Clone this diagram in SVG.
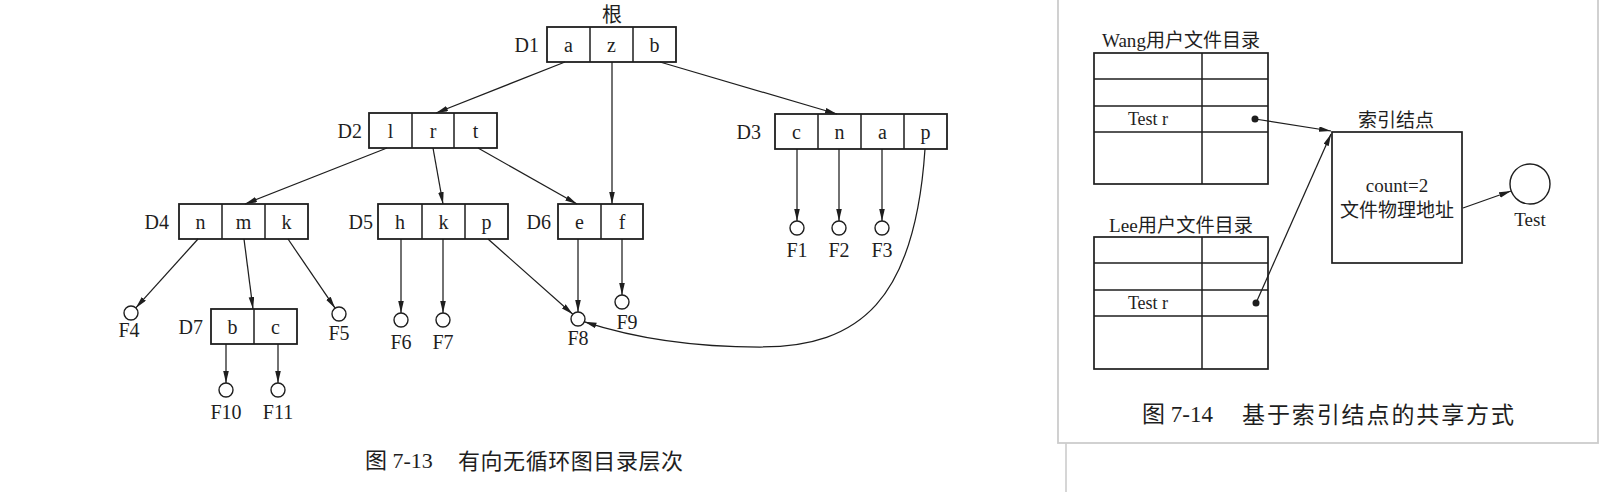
<svg xmlns="http://www.w3.org/2000/svg" width="1602" height="492" viewBox="0 0 1602 492">
<style>
text{font-family:"Liberation Serif","Noto Sans CJK SC",serif;fill:#1e1e1e}
.lbl{font-size:20px}
.c{text-anchor:middle}
.e{text-anchor:end}
.box{fill:#fff;stroke:#1e1e1e;stroke-width:1.8}
.cell{stroke:#1e1e1e;stroke-width:1.5}
.ln{fill:none;stroke:#1e1e1e;stroke-width:1.25}
.fc{fill:#fff;stroke:#1e1e1e;stroke-width:1.4}
.tb{fill:#fff;stroke:#1e1e1e;stroke-width:1.7}
.cap{font-size:22px}
.r19{font-size:19px}
</style>
<defs>
<marker id="arr" markerUnits="userSpaceOnUse" markerWidth="13" markerHeight="7" refX="12" refY="2.8" orient="auto">
<path d="M0,0 L12,2.8 L0,5.6 Z" fill="#1e1e1e"/>
</marker>
</defs>
<rect x="0" y="0" width="1602" height="492" fill="#fff"/>

<!-- Left figure 7-13 -->
<text class="lbl c" x="612" y="22">根</text>

<g id="D1">
<rect class="box" x="547" y="27" width="129" height="35"/>
<line class="cell" x1="590" y1="27" x2="590" y2="62"/>
<line class="cell" x1="633" y1="27" x2="633" y2="62"/>
<text class="lbl e" x="539" y="52">D1</text>
<text class="lbl c" x="568.5" y="52">a</text>
<text class="lbl c" x="611.5" y="52">z</text>
<text class="lbl c" x="654.5" y="52">b</text>
</g>

<g id="D2">
<rect class="box" x="369" y="113" width="128" height="35"/>
<line class="cell" x1="412" y1="113" x2="412" y2="148"/>
<line class="cell" x1="454" y1="113" x2="454" y2="148"/>
<text class="lbl e" x="362" y="138">D2</text>
<text class="lbl c" x="390.5" y="138">l</text>
<text class="lbl c" x="433" y="138">r</text>
<text class="lbl c" x="475.5" y="138">t</text>
</g>

<g id="D3">
<rect class="box" x="775" y="114" width="172" height="35"/>
<line class="cell" x1="818" y1="114" x2="818" y2="149"/>
<line class="cell" x1="861" y1="114" x2="861" y2="149"/>
<line class="cell" x1="904" y1="114" x2="904" y2="149"/>
<text class="lbl e" x="761" y="139">D3</text>
<text class="lbl c" x="796.5" y="139">c</text>
<text class="lbl c" x="839.5" y="139">n</text>
<text class="lbl c" x="882.5" y="139">a</text>
<text class="lbl c" x="925.5" y="139">p</text>
</g>

<g id="D4">
<rect class="box" x="179" y="204" width="129" height="35"/>
<line class="cell" x1="222" y1="204" x2="222" y2="239"/>
<line class="cell" x1="265" y1="204" x2="265" y2="239"/>
<text class="lbl e" x="169" y="229">D4</text>
<text class="lbl c" x="200.5" y="229">n</text>
<text class="lbl c" x="243.5" y="229">m</text>
<text class="lbl c" x="286.5" y="229">k</text>
</g>

<g id="D5">
<rect class="box" x="378" y="204" width="130" height="35"/>
<line class="cell" x1="422" y1="204" x2="422" y2="239"/>
<line class="cell" x1="465" y1="204" x2="465" y2="239"/>
<text class="lbl e" x="373" y="229">D5</text>
<text class="lbl c" x="400" y="229">h</text>
<text class="lbl c" x="443.5" y="229">k</text>
<text class="lbl c" x="486.5" y="229">p</text>
</g>

<g id="D6">
<rect class="box" x="558" y="204" width="85" height="35"/>
<line class="cell" x1="601" y1="204" x2="601" y2="239"/>
<text class="lbl e" x="551" y="229">D6</text>
<text class="lbl c" x="579.5" y="229">e</text>
<text class="lbl c" x="622" y="229">f</text>
</g>

<g id="D7">
<rect class="box" x="211" y="309" width="86" height="35"/>
<line class="cell" x1="254" y1="309" x2="254" y2="344"/>
<text class="lbl e" x="203" y="334">D7</text>
<text class="lbl c" x="232.5" y="334">b</text>
<text class="lbl c" x="275.5" y="334">c</text>
</g>

<g id="F1"><circle class="fc" cx="797" cy="228" r="7"/><text class="lbl c" x="797" y="257">F1</text></g>
<g id="F2"><circle class="fc" cx="839" cy="228" r="7"/><text class="lbl c" x="839" y="257">F2</text></g>
<g id="F3"><circle class="fc" cx="882" cy="228" r="7"/><text class="lbl c" x="882" y="257">F3</text></g>
<g id="F4"><circle class="fc" cx="131" cy="313" r="7"/><text class="lbl c" x="129" y="337">F4</text></g>
<g id="F5"><circle class="fc" cx="339" cy="314" r="7"/><text class="lbl c" x="339" y="340">F5</text></g>
<g id="F6"><circle class="fc" cx="401" cy="320" r="7"/><text class="lbl c" x="401" y="349">F6</text></g>
<g id="F7"><circle class="fc" cx="443" cy="320" r="7"/><text class="lbl c" x="443" y="349">F7</text></g>
<g id="F8"><circle class="fc" cx="578" cy="319" r="7"/><text class="lbl c" x="578" y="345">F8</text></g>
<g id="F9"><circle class="fc" cx="622" cy="302" r="7"/><text class="lbl c" x="627" y="329">F9</text></g>
<g id="F10"><circle class="fc" cx="226" cy="390" r="7"/><text class="lbl c" x="226" y="419">F10</text></g>
<g id="F11"><circle class="fc" cx="278" cy="390" r="7"/><text class="lbl c" x="278" y="419">F11</text></g>

<g id="connectors-left">
<line class="ln" x1="565" y1="62" x2="436" y2="113" marker-end="url(#arr)"/>
<line class="ln" x1="612" y1="62" x2="612" y2="204" marker-end="url(#arr)"/>
<line class="ln" x1="660" y1="62" x2="837" y2="114" marker-end="url(#arr)"/>
<line class="ln" x1="387" y1="148" x2="245" y2="204" marker-end="url(#arr)"/>
<line class="ln" x1="433" y1="148" x2="443" y2="204" marker-end="url(#arr)"/>
<line class="ln" x1="478" y1="148" x2="577" y2="204" marker-end="url(#arr)"/>
<line class="ln" x1="797" y1="149" x2="797" y2="221" marker-end="url(#arr)"/>
<line class="ln" x1="839" y1="149" x2="839" y2="221" marker-end="url(#arr)"/>
<line class="ln" x1="882" y1="149" x2="882" y2="221" marker-end="url(#arr)"/>
<path class="ln" d="M925,149 C915,300 860,347 760,347 C680,347 625,335 584.5,321.8" marker-end="url(#arr)"/>
<line class="ln" x1="198" y1="239" x2="135.8" y2="307.9" marker-end="url(#arr)"/>
<line class="ln" x1="244" y1="239" x2="253" y2="309" marker-end="url(#arr)"/>
<line class="ln" x1="288" y1="239" x2="335.1" y2="308.2" marker-end="url(#arr)"/>
<line class="ln" x1="401" y1="239" x2="401" y2="313" marker-end="url(#arr)"/>
<line class="ln" x1="443" y1="239" x2="443" y2="313" marker-end="url(#arr)"/>
<line class="ln" x1="488" y1="239" x2="572.8" y2="314.3" marker-end="url(#arr)"/>
<line class="ln" x1="578" y1="239" x2="578" y2="312" marker-end="url(#arr)"/>
<line class="ln" x1="622" y1="239" x2="622" y2="295" marker-end="url(#arr)"/>
<line class="ln" x1="226" y1="344" x2="226" y2="383" marker-end="url(#arr)"/>
<line class="ln" x1="278" y1="344" x2="278" y2="383" marker-end="url(#arr)"/>
</g>

<text class="cap" x="365" y="468">图 7-13</text>
<text class="cap" x="458" y="469" textLength="225" lengthAdjust="spacing">有向无循环图目录层次</text>

<!-- Right figure 7-14 card -->
<line x1="1066" y1="443" x2="1066" y2="492" stroke="#c8c8c8" stroke-width="1.5"/>
<rect x="1058" y="-2" width="540" height="445" fill="#fff" stroke="#cccccc" stroke-width="1.8"/>

<g id="wang">
<text class="r19 c" x="1181" y="47" textLength="158" lengthAdjust="spacingAndGlyphs">Wang用户文件目录</text>
<rect class="tb" x="1094" y="53" width="174" height="131"/>
<line class="cell" x1="1094" y1="79" x2="1268" y2="79"/>
<line class="cell" x1="1094" y1="106" x2="1268" y2="106"/>
<line class="cell" x1="1094" y1="132" x2="1268" y2="132"/>
<line class="cell" x1="1202" y1="53" x2="1202" y2="184"/>
<text class="c" style="font-size:18px" x="1148" y="125">Test r</text>
<circle cx="1255" cy="119" r="3.5" fill="#1e1e1e"/>
</g>

<g id="lee">
<text class="r19 c" x="1181" y="232" textLength="144" lengthAdjust="spacingAndGlyphs">Lee用户文件目录</text>
<rect class="tb" x="1094" y="237" width="174" height="132"/>
<line class="cell" x1="1094" y1="263" x2="1268" y2="263"/>
<line class="cell" x1="1094" y1="290" x2="1268" y2="290"/>
<line class="cell" x1="1094" y1="316" x2="1268" y2="316"/>
<line class="cell" x1="1202" y1="237" x2="1202" y2="369"/>
<text class="c" style="font-size:18px" x="1148" y="309">Test r</text>
<circle cx="1256" cy="303" r="3.5" fill="#1e1e1e"/>
</g>

<g id="inode">
<text class="r19 c" x="1396" y="127">索引结点</text>
<rect class="tb" x="1332" y="132" width="130" height="131"/>
<text class="r19 c" x="1397" y="192">count=2</text>
<text class="r19 c" x="1397" y="217">文件物理地址</text>
</g>

<g id="test">
<circle class="fc" cx="1530" cy="184" r="20" stroke-width="1.7"/>
<text class="c" style="font-size:19px" x="1530" y="226">Test</text>
</g>

<g id="connectors-right">
<line class="ln" x1="1255" y1="119" x2="1331" y2="131" marker-end="url(#arr)"/>
<line class="ln" x1="1256" y1="303" x2="1331" y2="134" marker-end="url(#arr)"/>
<line class="ln" x1="1463" y1="208" x2="1511" y2="191" marker-end="url(#arr)"/>
</g>

<text style="font-size:23px" x="1142" y="422">图 7-14</text>
<text style="font-size:23px" x="1242" y="423" textLength="272" lengthAdjust="spacing">基于索引结点的共享方式</text>
</svg>
